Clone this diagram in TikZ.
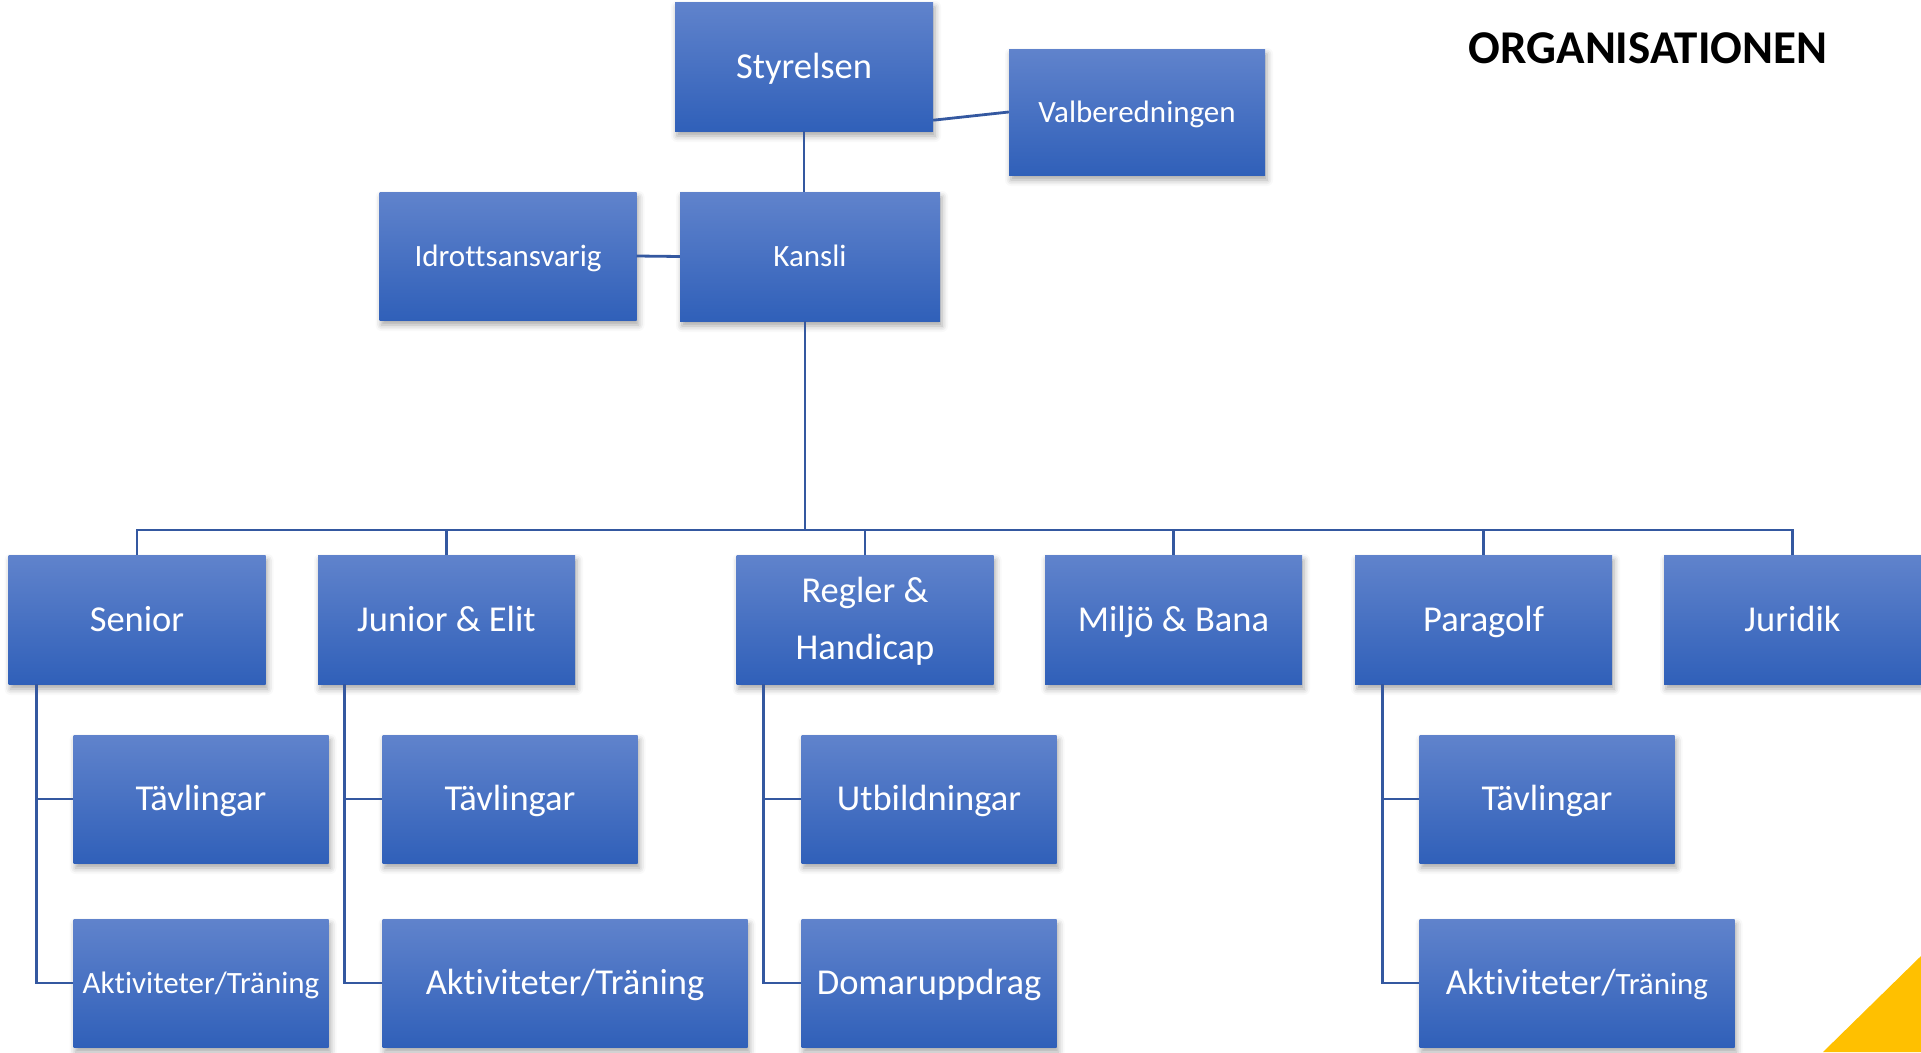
\documentclass[tikz,border=0pt]{standalone}
\usepackage{fontspec}
\setmainfont{Carlito}[Ligatures={NoCommon}]
\usetikzlibrary{shadows.blur,calc}
\definecolor{boxtop}{RGB}{96,131,204}
\definecolor{boxmid}{RGB}{68,114,198}
\definecolor{boxbot}{RGB}{48,96,185}
\definecolor{linec}{RGB}{52,88,160}
\definecolor{triy}{RGB}{255,192,0}
\tikzset{
  orgbox/.style={draw=none, minimum width=257pt, minimum height=128pt, inner sep=0pt,
    text=white, top color=boxtop, middle color=boxmid, bottom color=boxbot,
    font=\fontsize{36.5}{44}\selectfont, text height=23.5pt, text depth=0pt,
    blur shadow={shadow xshift=2pt, shadow yshift=-5pt, shadow blur radius=6pt, shadow opacity=35}},
  smallbox/.style={orgbox, font=\fontsize{31}{38}\selectfont, text height=20pt},
  conn/.style={draw=linec, line width=2.8pt},
}
\begin{document}
\begin{tikzpicture}[x=1pt,y=-1pt]
\useasboundingbox (0,0) rectangle (1921,1052);
\fill[triy] (1823,1052) -- (1921,1052) -- (1921,956) -- cycle;
\node[anchor=base, inner sep=0pt, font=\fontsize{47}{56}\selectfont\bfseries] (title) at (1648,63) {ORGANISATIONEN};

% top
\node[orgbox, minimum width=258pt, minimum height=129pt] (sty) at (804,66.5) {Styrelsen};
\node[smallbox, minimum width=256pt, minimum height=126pt] (val) at (1137,112) {Valberedningen};
\node[smallbox] (idr) at (508,256) {Idrottsansvarig};
\node[smallbox, minimum width=260pt, minimum height=129pt] (kan) at (810,256.5) {Kansli};
\coordinate (bus) at (805,530);

% row 1
\node[orgbox, minimum height=129pt] (sen) at (137,619.5) {Senior};
\node[orgbox, minimum height=129pt] (jun) at (446.5,619.5) {Junior \& Elit};
\node[orgbox, minimum height=129pt, align=center, font=\fontsize{36.5}{57}\selectfont, text height=80.5pt, text depth=0pt] (reg) at (865,619.5) {Regler \&\\Handicap};
\node[orgbox, minimum height=129pt] (mil) at (1173.5,619.5) {Miljö \& Bana};
\node[orgbox, minimum height=129pt] (par) at (1483.5,619.5) {Paragolf};
\node[orgbox, minimum height=129pt] (jur) at (1792.5,619.5) {Juridik};

% row 2
\node[orgbox, minimum width=255pt] (st) at (201,799) {Tävlingar};
\node[orgbox, minimum width=255pt] (jt) at (510,799) {Tävlingar};
\node[orgbox, minimum width=255pt] (utb) at (929,799) {Utbildningar};
\node[orgbox, minimum width=255pt] (pt) at (1547,799) {Tävlingar};

% row 3
\node[smallbox, minimum width=255pt] (sa) at (201,983) {Aktiviteter/Träning};
\node[orgbox, minimum width=365pt] (ja) at (565,983) {Aktiviteter/Träning};
\node[orgbox, minimum width=255pt] (dom) at (929,983) {Domaruppdrag};
\node[orgbox, minimum width=315pt] (pa) at (1577,983) {Aktiviteter/{\fontsize{31}{38}\selectfont Träning}};

% connectors top
\draw[conn] (sty.south) -- (sty.south |- kan.north);
\draw[conn] ($(sty.south east)+(0,-11)$) -- (val.west);
\draw[conn] (idr.east) -- (kan.west);
\draw[conn] (kan.south -| bus) -- (bus);
\draw[conn] (sen.north) -- (sen.north |- bus) -- (jur.north |- bus) -- (jur.north);
\foreach \n in {jun,reg,mil,par}{
  \draw[conn] (\n.north) -- (\n.north |- bus);
}

% sub connectors
\draw[conn] ($(sen.south west)+(28,0)$) |- (sa.west);
\draw[conn] ($(sen.south west)+(28,0)$) |- (st.west);
\draw[conn] ($(jun.south west)+(27,0)$) |- (ja.west);
\draw[conn] ($(jun.south west)+(27,0)$) |- (jt.west);
\draw[conn] ($(reg.south west)+(27,0)$) |- (dom.west);
\draw[conn] ($(reg.south west)+(27,0)$) |- (utb.west);
\draw[conn] ($(par.south west)+(28,0)$) |- (pa.west);
\draw[conn] ($(par.south west)+(28,0)$) |- (pt.west);
\end{tikzpicture}
\end{document}
